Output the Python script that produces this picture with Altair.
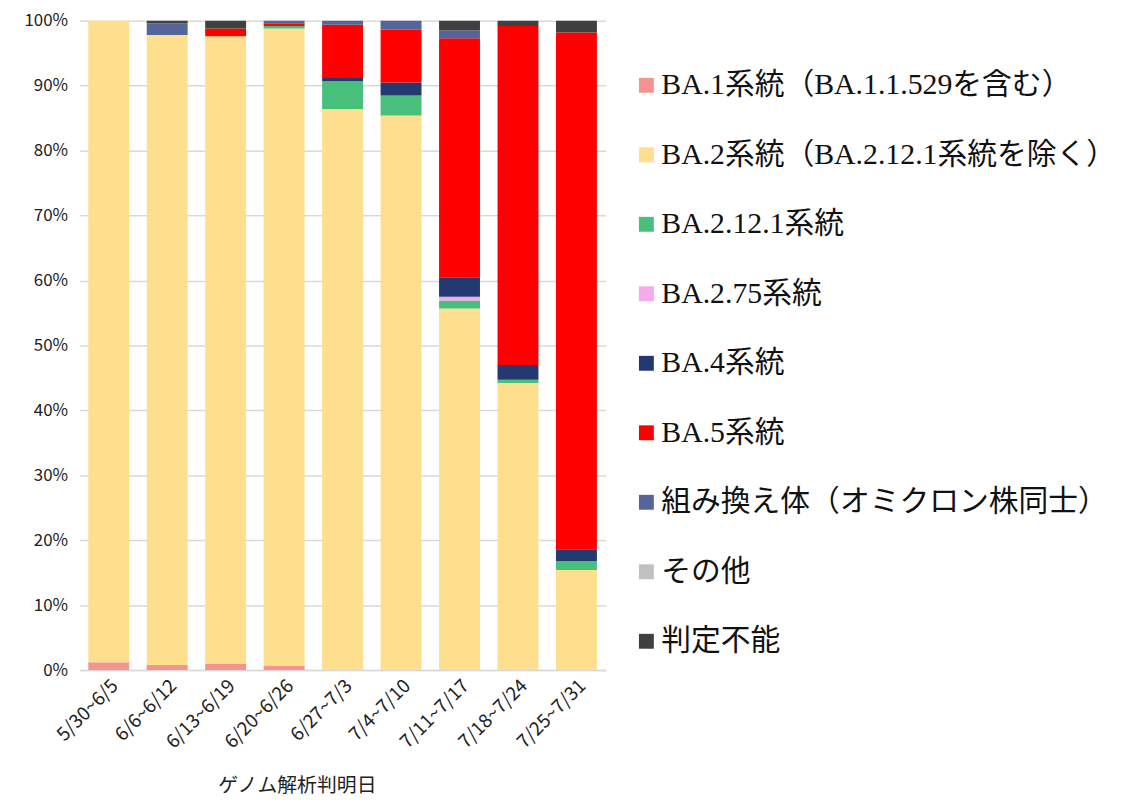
import altair as alt
import pandas as pd

periods = ["5/30~6/5", "6/6~6/12", "6/13~6/19", "6/20~6/26", "6/27~7/3",
           "7/4~7/10", "7/11~7/17", "7/18~7/24", "7/25~7/31"]

lineages = ["BA.1系統（BA.1.1.529を含む）", "BA.2系統（BA.2.12.1系統を除く）",
            "BA.2.12.1系統", "BA.2.75系統", "BA.4系統", "BA.5系統",
            "組み換え体（オミクロン株同士）", "その他", "判定不能"]

colors = ["#F3948F", "#FDDF8E", "#48C07C", "#F7A8EE", "#24396F",
          "#FF0000", "#55659A", "#C0C0C0", "#404040"]

# percentages per lineage, one value per period
ba1 = [1.2, 0.8, 1.0, 0.7, 0.0, 0.0, 0.0, 0.0, 0.0]
ba2 = [98.8, 97.0, 96.6, 98.1, 86.4, 85.4, 55.7, 44.2, 15.4]
ba2121 = [0.0, 0.0, 0.0, 0.4, 4.3, 3.1, 1.2, 0.5, 1.4]
ba275 = [0.0, 0.0, 0.0, 0.0, 0.0, 0.0, 0.6, 0.0, 0.0]
ba4 = [0.0, 0.0, 0.0, 0.0, 0.5, 2.0, 3.0, 2.3, 1.8]
ba5 = [0.0, 0.0, 1.2, 0.4, 8.2, 8.1, 36.8, 52.2, 79.6]
recomb = [0.0, 1.8, 0.0, 0.4, 0.6, 1.4, 1.2, 0.0, 0.0]
other = [0.0, 0.0, 0.0, 0.0, 0.0, 0.0, 0.0, 0.0, 0.0]
undetermined = [0.0, 0.4, 1.2, 0.0, 0.0, 0.0, 1.5, 0.8, 1.8]

series = [ba1, ba2, ba2121, ba275, ba4, ba5, recomb, other, undetermined]
y_ticks = [0, 10, 20, 30, 40, 50, 60, 70, 80, 90, 100]

rows = []
for li, (name, vals) in enumerate(zip(lineages, series)):
    for p, v in zip(periods, vals):
        rows.append({"period": p, "lineage": name, "order": li, "value": v})
df = pd.DataFrame(rows)

y_axis = alt.Axis(title=None, values=y_ticks, labelExpr="datum.value + '%'",
                  labelOverlap=False, grid=True, ticks=False, domain=False,
                  gridColor="#D9D9D9", gridWidth=1.5,
                  labelFontSize=17, labelPadding=12, labelColor="#222",
                  labelFont="Noto Sans CJK JP")

x_axis = alt.Axis(title="ゲノム解析判明日", labelAngle=-45, labelAlign="right",
                  labelBaseline="top", ticks=False, domain=True,
                  domainColor="#D9D9D9", domainWidth=1.5, grid=False,
                  labelFontSize=19, labelPadding=6, labelOverlap=False,
                  titleFontSize=20, titleFontWeight="normal",
                  titleX=219, titleY=116, titleAlign="center", titleBaseline="middle")

bars = alt.Chart(df).mark_bar().encode(
    x=alt.X("period:N", sort=periods,
            scale=alt.Scale(paddingInner=0.3, paddingOuter=0.15),
            axis=x_axis),
    y=alt.Y("sum(value):Q", stack="zero",
            scale=alt.Scale(domain=[0, 100], nice=False, zero=True),
            axis=y_axis),
    color=alt.Color("lineage:N", scale=alt.Scale(domain=lineages, range=colors),
                    legend=alt.Legend(title=None, orient="none", legendX=556, legendY=50,
                                      symbolType="square", symbolSize=225, symbolStrokeWidth=0,
                                      labelFontSize=30, labelLimit=600, labelOffset=0,
                                      rowPadding=40,
                                      labelFont='"Liberation Serif", "Noto Sans CJK JP"',
                                      labelColor="#111")),
    order=alt.Order("order:Q", sort="ascending"),
)

chart = bars.properties(
    width=530, height=654,
    autosize=alt.AutoSizeParams(type="none"),
    padding={"left": 72, "top": 10, "right": 514, "bottom": 129},
).configure_view(stroke=None).configure_axis(
    labelFont="Noto Sans CJK JP", titleFont="Noto Sans CJK JP",
    labelColor="#222", titleColor="#222",
)

chart.save("out.html", embed_options={"renderer": "svg", "actions": False})
